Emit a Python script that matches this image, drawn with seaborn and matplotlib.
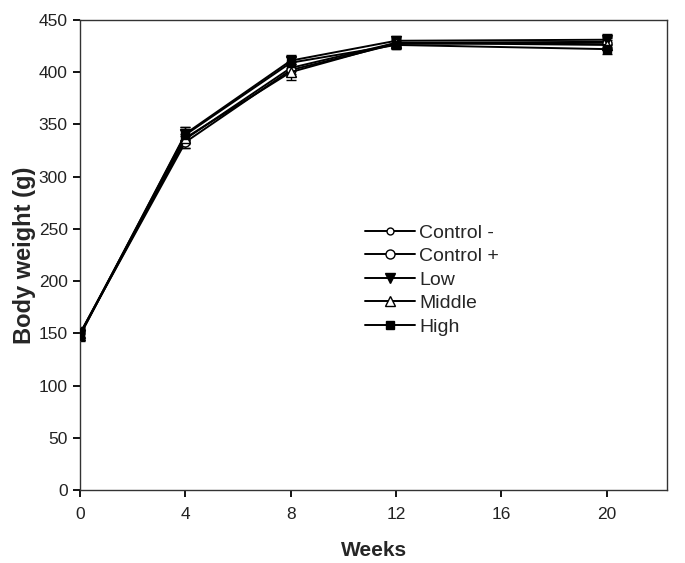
import numpy as np
import pandas as pd
import matplotlib
matplotlib.use("Agg")
import matplotlib.pyplot as plt
import seaborn as sns

weeks = [0, 4, 8, 12, 20]
groups = ["Control -", "Control +", "Low", "Middle", "High"]

ctrl_neg = [149, 336, 404, 428, 429]
ctrl_pos = [150, 333, 402, 427, 428]
low = [148, 341, 411, 430, 431]
middle = [150, 337, 400, 428, 426]
high = [149, 340, 409, 426, 422]

ctrl_neg_sd = [5, 5, 6, 4, 5]
ctrl_pos_sd = [5, 6, 6, 4, 5]
low_sd = [5, 6, 5, 5, 5]
middle_sd = [6, 10, 8, 5, 5]
high_sd = [5, 5, 5, 4, 5]

means = [ctrl_neg, ctrl_pos, low, middle, high]
sds = [ctrl_neg_sd, ctrl_pos_sd, low_sd, middle_sd, high_sd]

df = pd.DataFrame({
    "week": np.tile(weeks, len(groups)),
    "weight": np.concatenate(means),
    "sd": np.concatenate(sds),
    "group": np.repeat(groups, len(weeks)),
})

sns.set_style("ticks")
plt.rcParams["font.family"] = ["Liberation Sans", "DejaVu Sans"]

fig = plt.figure(figsize=(6.85, 5.63), dpi=100)
ax = fig.add_axes([0.117, 0.1297, 0.857, 0.835])

markers = {"Control -": "o", "Control +": "o", "Low": "v", "Middle": "^", "High": "s"}
msizes = {"Control -": 5, "Control +": 6.5, "Low": 6.5, "Middle": 6.5, "High": 6}
faces = {"Control -": "white", "Control +": "white", "Low": "black", "Middle": "white", "High": "black"}

for g in groups:
    sub = df[df.group == g]
    ax.errorbar(sub.week, sub.weight, yerr=sub.sd, fmt="none", ecolor="black",
                elinewidth=1, capsize=3.5, capthick=1, zorder=2)
    sns.lineplot(data=sub, x="week", y="weight", ax=ax, color="black", lw=1.4,
                 marker=markers[g], markersize=msizes[g], markerfacecolor=faces[g],
                 markeredgecolor="black", markeredgewidth=1, label=g, zorder=3)

ax.set_xlim(0, 22.3)
ax.set_ylim(0, 450)
ax.set_xticks([0, 4, 8, 12, 16, 20])
ax.set_yticks(np.arange(0, 451, 50))
ax.tick_params(axis="both", which="major", labelsize=12.5, direction="out",
               length=5, width=1.3, colors="black", labelcolor="#222222",
               bottom=True, left=True, pad=4)
ax.tick_params(axis="x", pad=7)
for s in ax.spines.values():
    s.set_linewidth(1)
    s.set_color("#333333")

ax.set_xlabel("Weeks", fontsize=15, fontweight="bold", labelpad=14)
ax.set_ylabel("Body weight (g)", fontsize=17, fontweight="bold", labelpad=2)

ax.legend(loc="center left", bbox_to_anchor=(0.485, 0.447), frameon=False,
          fontsize=14, handlelength=2.6, labelspacing=0.3, handletextpad=0.2,
          borderpad=0, borderaxespad=0)

fig.savefig("out.png", dpi=100)
